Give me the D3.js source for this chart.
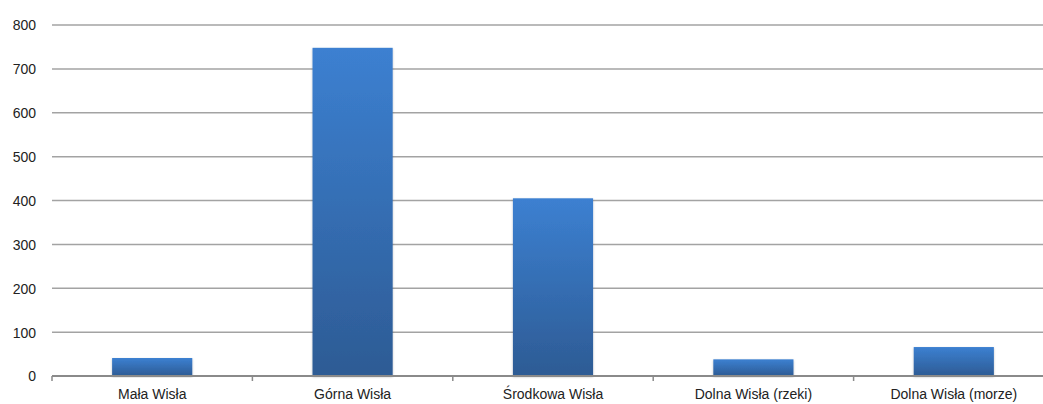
<!DOCTYPE html>
<html>
<head>
<meta charset="utf-8">
<script src="https://cdn.jsdelivr.net/npm/d3@7"></script>
<style>
  html, body { margin: 0; padding: 0; background: #fff; }
  svg { display: block; }
  text { font-family: "Liberation Sans", Arial, sans-serif; }
</style>
</head>
<body>
<svg id="chart" width="1043" height="404"></svg>
<script>
const categories = ["Mała Wisła", "Górna Wisła", "Środkowa Wisła", "Dolna Wisła (rzeki)", "Dolna Wisła (morze)"];
const values = [41, 748, 405, 38, 66];
const yTicks = [0, 100, 200, 300, 400, 500, 600, 700, 800];

(function () {
const svg = d3.select("#chart");
const mLeft = 52, mRight = 1054, mTop = 25, mBottom = 376;

const x = d3.scaleBand().domain(categories).range([mLeft, mRight]).paddingInner(0.6).paddingOuter(0.3);
const y = d3.scaleLinear().domain([0, 800]).range([mBottom, mTop]);

const defs = svg.append("defs");
const grad = defs.append("linearGradient").attr("id", "barGrad").attr("x1", 0).attr("y1", 0).attr("x2", 0).attr("y2", 1);
grad.append("stop").attr("offset", "0%").attr("stop-color", "#3c80d1");
grad.append("stop").attr("offset", "100%").attr("stop-color", "#2d5b94");
const flt = defs.append("filter").attr("id", "shadow").attr("x", "-10%").attr("y", "-10%").attr("width", "120%").attr("height", "120%");
flt.append("feDropShadow").attr("dx", 0).attr("dy", 1).attr("stdDeviation", 1.2).attr("flood-color", "#000").attr("flood-opacity", 0.25);

// gridlines
svg.append("g").selectAll("line").data(yTicks.filter(d => d > 0)).join("line")
  .attr("x1", mLeft).attr("x2", 1043)
  .attr("y1", d => y(d)).attr("y2", d => y(d))
  .attr("stroke", "#a3a3a3").attr("stroke-width", 1.5);

// y axis labels
const yAxis = d3.axisLeft(y).tickValues(yTicks).tickSize(0).tickPadding(0);
const gy = svg.append("g").attr("transform", `translate(${mLeft - 16},0)`).call(yAxis);
gy.select(".domain").remove();
gy.selectAll("text").attr("font-size", 14).attr("fill", "#222").attr("font-family", "'Liberation Sans', Arial, sans-serif").attr("dy", "0.35em");

// bars
svg.append("g").selectAll("rect").data(values).join("rect")
  .attr("x", (d, i) => x(categories[i]))
  .attr("width", x.bandwidth())
  .attr("y", d => y(d))
  .attr("height", d => y(0) - y(d))
  .attr("fill", "url(#barGrad)")
  .attr("filter", "url(#shadow)");

// x axis
const xAxis = d3.axisBottom(x).tickSize(0).tickPadding(10);
const gx = svg.append("g").attr("transform", `translate(0,${mBottom})`).call(xAxis);
gx.select(".domain").remove();
gx.selectAll("text").attr("font-size", 14).attr("fill", "#222").attr("font-family", "'Liberation Sans', Arial, sans-serif").attr("dy", "0.9em");
svg.append("line").attr("x1", mLeft).attr("x2", 1043).attr("y1", mBottom).attr("y2", mBottom)
  .attr("stroke", "#8a8a8a").attr("stroke-width", 2);
// category boundary ticks
const bounds = d3.range(categories.length + 1).map(i => mLeft + i * x.step());
svg.append("g").selectAll("line").data(bounds).join("line")
  .attr("x1", d => d).attr("x2", d => d).attr("y1", mBottom).attr("y2", mBottom + 5)
  .attr("stroke", "#8a8a8a").attr("stroke-width", 1.5);
})();
</script>
</body>
</html>
